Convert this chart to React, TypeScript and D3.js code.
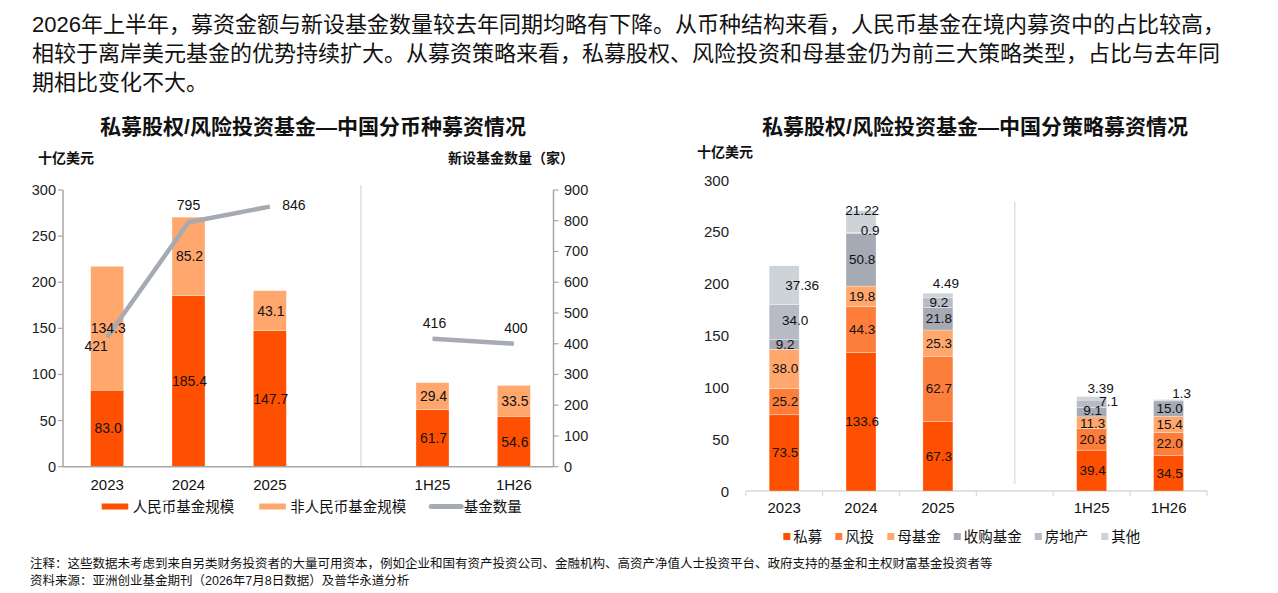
import React from 'react';
import * as d3 from 'd3';

// ---- data ----
const slots = ['2023', '2024', '2025', 'gap', '1H25', '1H26'];
const periods = ['2023', '2024', '2025', '1H25', '1H26'];

const rmbFunds = [83.0, 185.4, 147.7, 61.7, 54.6];
const nonRmbFunds = [134.3, 85.2, 43.1, 29.4, 33.5];
const fundCounts = [421, 795, 846, 416, 400];
const leftTicks = [0, 50, 100, 150, 200, 250, 300];
const countTicks = [0, 100, 200, 300, 400, 500, 600, 700, 800, 900];

const strategies = ['私募', '风投', '母基金', '收购基金', '房地产', '其他'];
const privateEquity = [73.5, 133.6, 67.3, 39.4, 34.5];
const ventureCapital = [25.2, 44.3, 62.7, 20.8, 22.0];
const fundOfFunds = [38.0, 19.8, 25.3, 11.3, 15.4];
const buyout = [9.2, 50.8, 21.8, 9.1, 15.0];
const realEstate = [34.0, 0.9, 9.2, 7.1, 0];
const others = [37.36, 21.22, 4.49, 3.39, 1.3];
const strategyTicks = [0, 50, 100, 150, 200, 250, 300];

const introLines = [
  '2026年上半年，募资金额与新设基金数量较去年同期均略有下降。从币种结构来看，人民币基金在境内募资中的占比较高，',
  '相较于离岸美元基金的优势持续扩大。从募资策略来看，私募股权、风险投资和母基金仍为前三大策略类型，占比与去年同',
  '期相比变化不大。',
];
const notes = [
  '注释：这些数据未考虑到来自另类财务投资者的大量可用资本，例如企业和国有资产投资公司、金融机构、高资产净值人士投资平台、政府支持的基金和主权财富基金投资者等',
  '资料来源：亚洲创业基金期刊（2026年7月8日数据）及普华永道分析',
];

// ---- styles ----
const FONT = '"Liberation Sans", Arial, "Noto Sans CJK SC", sans-serif';
const RMB = '#fe5000';
const NON_RMB = '#ffa76d';
const LINE = '#a5aab3';
const AXIS = '#a6a6a6';
const strategyColors = ['#fe5000', '#fd7e3b', '#ffa76d', '#a5aab4', '#b6bbc5', '#cdd3d7'];

// label nudges (dx, dy) for crowded segments
const lineNudge: [number, number][] = [[-11, 9], [0, -17], [24, -2], [2, -16], [2, -16]];
const stratNudge: Record<string, [number, number]> = {
  '2023|其他': [17, 0],
  '2023|房地产': [10, -2],
  '2024|其他': [0, -11],
  '2024|房地产': [8, -2],
  '2025|其他': [7, -12],
  '1H25|其他': [8, -10],
  '1H25|房地产': [16, -2],
  '1H25|收购基金': [0, -1.5],
  '1H25|母基金': [0, 1],
  '1H26|其他': [12, -7],
};

export default function App() {
  // ---------- left chart ----------
  const xL = d3.scaleBand<string>().domain(slots).range([66.5, 554.5]);
  const stepL = xL.step();
  const bwL = 33;
  const yL = d3.scaleLinear().domain([0, 300]).range([466.7, 190]);
  const yC = d3.scaleLinear().domain([0, 900]).range([466.7, 190]);
  const cx = (p: string) => (xL(p) as number) + stepL / 2;

  const currencyRows = periods.map((p, i) => ({ period: p, rmb: rmbFunds[i], nonRmb: nonRmbFunds[i] }));
  const currencyStack = d3.stack<any>().keys(['rmb', 'nonRmb'])(currencyRows);
  const currencyColors = [RMB, NON_RMB];

  const linePts = periods.map((p, i) => [cx(p), yC(fundCounts[i])] as [number, number]);
  const lineGen = d3.line<[number, number]>();
  const seg1 = lineGen(linePts.slice(0, 3)) || '';
  const seg2 = lineGen(linePts.slice(3)) || '';

  // ---------- right chart ----------
  const xR = d3.scaleBand<string>().domain(slots).range([745.7, 1207]);
  const stepR = xR.step();
  const bwR = 30;
  const yS = d3.scaleLinear().domain([0, 300]).range([491, 180]);
  const cxR = (p: string) => (xR(p) as number) + stepR / 2;

  const strategyValues = [privateEquity, ventureCapital, fundOfFunds, buyout, realEstate, others];
  const strategyRows = periods.map((p, i) => {
    const row: any = { period: p };
    strategies.forEach((s, k) => (row[s] = strategyValues[k][i]));
    return row;
  });
  const strategyStack = d3.stack<any>().keys(strategies)(strategyRows);
  const fmtStrategy = (s: string, v: number) => (s === '其他' ? String(v) : v.toFixed(1));

  // legends
  const legFont = 14.5;
  const leftLegend = [
    { label: '人民币基金规模', color: RMB, kind: 'rect' },
    { label: '非人民币基金规模', color: NON_RMB, kind: 'rect' },
    { label: '基金数量', color: LINE, kind: 'line' },
  ];
  let lx = 101.7;
  const leftLegendPos = leftLegend.map((d) => {
    const x = lx;
    lx += 31 + d.label.length * legFont + 25;
    return x;
  });
  let rx = 783.3;
  const rightLegendPos = strategies.map((s) => {
    const x = rx;
    rx += 10 + s.length * legFont + 13;
    return x;
  });

  return (
    <svg
      width={1278}
      height={593}
      style={{ position: 'absolute', left: 0, top: 0, background: '#fff' }}
      fontFamily={FONT}
    >
      {/* intro paragraph */}
      {introLines.map((t, i) => (
        <text key={i} x={32} y={32 + i * 28.8} fontSize={22} fill="#111">
          {t}
        </text>
      ))}

      {/* ================= left chart ================= */}
      <text x={313} y={133.5} fontSize={21} fontWeight="bold" textAnchor="middle" fill="#111">
        私募股权/风险投资基金—中国分币种募资情况
      </text>
      <text x={38} y={163} fontSize={14} fontWeight="bold" fill="#111">十亿美元</text>
      <text x={574} y={163} fontSize={14} fontWeight="bold" textAnchor="end" fill="#111">新设基金数量（家）</text>

      {/* separator */}
      <line
        x1={(xL('gap') as number) + stepL * 0.62}
        x2={(xL('gap') as number) + stepL * 0.62}
        y1={185}
        y2={yL(0)}
        stroke="#d9d9d9"
        strokeWidth={1.2}
      />

      {/* bars */}
      {currencyStack.map((layer, k) =>
        layer.map((d, i) => (
          <rect
            key={`${k}-${i}`}
            x={cx(periods[i]) - bwL / 2}
            y={yL(d[1])}
            width={bwL}
            height={yL(d[0]) - yL(d[1])}
            fill={currencyColors[k]}
            stroke="#fff"
            strokeWidth={0.5}
            strokeOpacity={0.6}
          />
        ))
      )}

      {/* axes */}
      <line x1={63} x2={63} y1={yL(300)} y2={yL(0)} stroke={AXIS} strokeWidth={1.5} />
      <line x1={553.5} x2={553.5} y1={yC(900)} y2={yC(0)} stroke={AXIS} strokeWidth={1.5} />
      <line x1={63} x2={553.5} y1={yL(0)} y2={yL(0)} stroke={AXIS} strokeWidth={1.5} />
      {leftTicks.map((t) => (
        <g key={t}>
          <line x1={58} x2={63} y1={yL(t)} y2={yL(t)} stroke={AXIS} strokeWidth={1.2} />
          <text x={56} y={yL(t)} fontSize={14.5} textAnchor="end" dominantBaseline="central" fill="#222">
            {t}
          </text>
        </g>
      ))}
      {countTicks.map((t) => (
        <g key={t}>
          <line x1={553.5} x2={558.5} y1={yC(t)} y2={yC(t)} stroke={AXIS} strokeWidth={1.2} />
          <text x={564} y={yC(t)} fontSize={14.5} dominantBaseline="central" fill="#222">
            {t}
          </text>
        </g>
      ))}

      {/* count line */}
      <path d={seg1} fill="none" stroke={LINE} strokeWidth={4.5} strokeLinejoin="round" />
      <path d={seg2} fill="none" stroke={LINE} strokeWidth={4.5} strokeLinejoin="round" />

      {/* bar labels */}
      {currencyStack.map((layer, k) =>
        layer.map((d, i) => (
          <text
            key={`lb-${k}-${i}`}
            x={cx(periods[i]) + 1}
            y={yL((d[0] + d[1]) / 2)}
            fontSize={14}
            textAnchor="middle"
            dominantBaseline="central"
            fill="#111"
          >
            {(d[1] - d[0]).toFixed(1)}
          </text>
        ))
      )}
      {/* line labels */}
      {linePts.map(([x, y], i) => (
        <text
          key={`cl-${i}`}
          x={x + lineNudge[i][0]}
          y={y + lineNudge[i][1]}
          fontSize={14}
          textAnchor="middle"
          dominantBaseline="central"
          fill="#111"
        >
          {fundCounts[i]}
        </text>
      ))}

      {/* category labels */}
      {periods.map((p) => (
        <text key={p} x={cx(p)} y={484} fontSize={15} textAnchor="middle" dominantBaseline="central" fill="#111">
          {p}
        </text>
      ))}

      {/* legend */}
      {leftLegend.map((d, i) => {
        const x = leftLegendPos[i];
        return (
          <g key={d.label}>
            {d.kind === 'rect' ? (
              <rect x={x} y={503.5} width={26.6} height={6} fill={d.color} />
            ) : (
              <line x1={x} x2={x + 30} y1={506.5} y2={506.5} stroke={d.color} strokeWidth={5} strokeLinecap="round" />
            )}
            <text x={x + (d.kind === 'rect' ? 31 : 32.5)} y={507} fontSize={legFont} dominantBaseline="central" fill="#111">
              {d.label}
            </text>
          </g>
        );
      })}

      {/* ================= right chart ================= */}
      <text x={975} y={133.5} fontSize={21} fontWeight="bold" textAnchor="middle" fill="#111">
        私募股权/风险投资基金—中国分策略募资情况
      </text>
      <text x={697} y={157} fontSize={14} fontWeight="bold" fill="#111">十亿美元</text>

      {strategyTicks.map((t) => (
        <text key={t} x={729} y={yS(t)} fontSize={15} textAnchor="end" dominantBaseline="central" fill="#222">
          {t}
        </text>
      ))}

      {/* separator */}
      <line x1={cxR('gap')} x2={cxR('gap')} y1={201.7} y2={484} stroke="#d9d9d9" strokeWidth={1.2} />

      {/* baseline + category ticks */}
      <line x1={745.7} x2={1207} y1={yS(0)} y2={yS(0)} stroke="#d9d9d9" strokeWidth={1.5} />
      {slots.map((s) => (
        <line key={s} x1={xR(s)} x2={xR(s)} y1={yS(0)} y2={yS(0) + 5} stroke="#d9d9d9" strokeWidth={1.2} />
      ))}
      <line x1={1207} x2={1207} y1={yS(0)} y2={yS(0) + 5} stroke="#d9d9d9" strokeWidth={1.2} />

      {/* stacked bars */}
      {strategyStack.map((layer, k) =>
        layer.map((d, i) =>
          d[1] - d[0] > 0 ? (
            <rect
              key={`s-${k}-${i}`}
              x={cxR(periods[i]) - bwR / 2}
              y={yS(d[1])}
              width={bwR}
              height={yS(d[0]) - yS(d[1])}
              fill={strategyColors[k]}
              stroke="#fff"
              strokeWidth={0.5}
              strokeOpacity={0.6}
            />
          ) : null
        )
      )}

      {/* stacked labels */}
      {strategyStack.map((layer, k) =>
        layer.map((d, i) => {
          const v = d[1] - d[0];
          if (v <= 0) return null;
          const key = `${periods[i]}|${strategies[k]}`;
          const [dx, dy] = stratNudge[key] || [0, 0];
          return (
            <text
              key={`sl-${k}-${i}`}
              x={cxR(periods[i]) + 1 + dx}
              y={yS((d[0] + d[1]) / 2) + dy}
              fontSize={13.5}
              textAnchor="middle"
              dominantBaseline="central"
              fill="#111"
            >
              {fmtStrategy(strategies[k], strategyValues[k][i])}
            </text>
          );
        })
      )}

      {periods.map((p) => (
        <text key={p} x={cxR(p)} y={507} fontSize={15} textAnchor="middle" dominantBaseline="central" fill="#111">
          {p}
        </text>
      ))}

      {/* legend */}
      {strategies.map((s, k) => (
        <g key={s}>
          <rect x={rightLegendPos[k]} y={533} width={7} height={7} fill={strategyColors[k]} />
          <text x={rightLegendPos[k] + 10} y={537} fontSize={legFont} dominantBaseline="central" fill="#111">
            {s}
          </text>
        </g>
      ))}

      {/* notes */}
      {notes.map((t, i) => (
        <text key={i} x={30} y={568 + i * 17} fontSize={12.5} fill="#111">
          {t}
        </text>
      ))}
    </svg>
  );
}
